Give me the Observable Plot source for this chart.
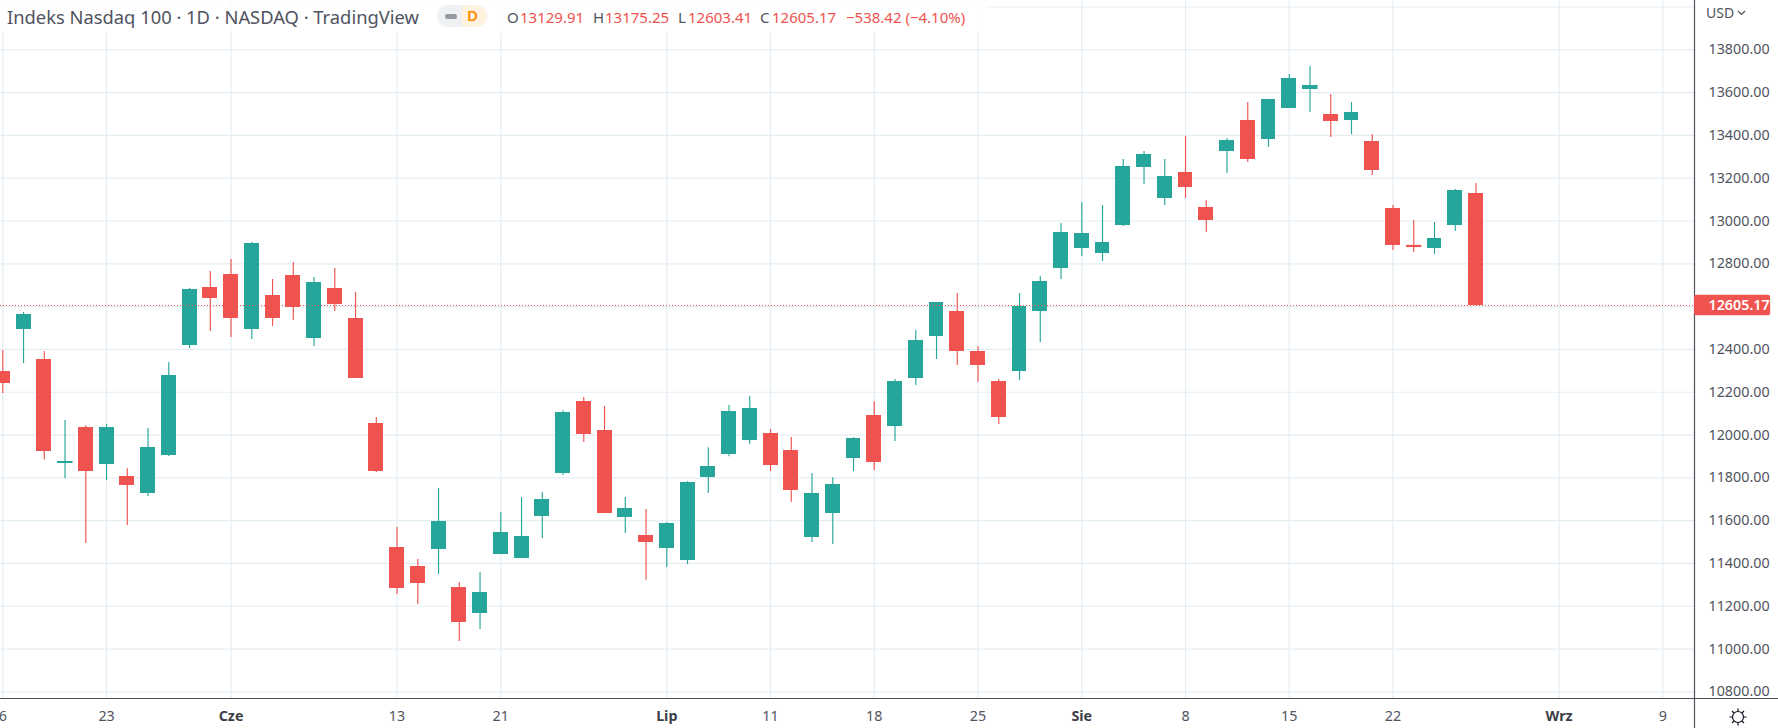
<!DOCTYPE html>
<html lang="pl">
<head>
<meta charset="utf-8">
<title>Indeks Nasdaq 100</title>
<script src="https://cdn.jsdelivr.net/npm/d3@7"></script>
<script src="https://cdn.jsdelivr.net/npm/@observablehq/plot@0.6"></script>
<style>
html,body{margin:0;padding:0;background:#fff;overflow:hidden}
#wrap{position:relative;width:1778px;height:728px;font-family:"Noto Sans",sans-serif}
#chart svg{display:block}
#head{position:absolute;left:0;top:0;width:990px;height:33px;background:rgba(255,255,255,.78)}
#head span{position:absolute;white-space:nowrap}
#title{left:7px;top:4px;font-size:18.35px;line-height:25px;color:#50535e}
.ohlc{top:7px;font-size:15px;line-height:20px;color:#ef5350}
.ohlc.k{color:#50535e}
#pillL{left:437px;top:5px;width:25px;height:22px;background:#eff0f3;border-radius:11px 0 0 11px}
#pillR{left:462px;top:5px;width:25px;height:22px;background:#fff3e0;border-radius:0 11px 11px 0;color:#ff8a00;font-size:15px;line-height:21px;font-weight:600;text-indent:5px}
#pillD{left:445px;top:14px;width:12px;height:5px;background:#9598a1;border-radius:2.5px}
#usd{position:absolute;left:1706px;top:3px;font-size:14px;line-height:20px;color:#50535e}
#chev{position:absolute;left:1737px;top:10px}
#gear{position:absolute;left:1727px;top:706px}
</style>
</head>
<body>
<div id="wrap">
  <div id="chart"></div>
  <div id="head">
    <span id="title">Indeks Nasdaq 100 · 1D · NASDAQ · TradingView</span>
    <span id="pillL"></span><span id="pillD"></span><span id="pillR">D</span>
    <span class="ohlc k" style="left:507px">O</span><span class="ohlc" style="left:520px">13129.91</span>
    <span class="ohlc k" style="left:593px">H</span><span class="ohlc" style="left:605px">13175.25</span>
    <span class="ohlc k" style="left:678px">L</span><span class="ohlc" style="left:688px">12603.41</span>
    <span class="ohlc k" style="left:760px">C</span><span class="ohlc" style="left:772px">12605.17</span>
    <span class="ohlc" style="left:846px">−538.42 (−4.10%)</span>
  </div>
  <div id="usd">USD</div>
  <svg id="chev" width="9" height="6" viewBox="0 0 9 6"><path d="M1 1l3.5 3.5L8 1" fill="none" stroke="#50535e" stroke-width="1.2"/></svg>
  <svg id="gear" width="22" height="22" viewBox="0 0 22 22" fill="none" stroke="#131722" stroke-width="1.2"><circle cx="11" cy="11" r="5.5"/><path d="M11 2.5v3M11 16.5v3M2.5 11h3M16.5 11h3M5 5l2 2M15 15l2 2M5 17l2-2M15 7l2-2"/></svg>
</div>
<script>
const opens  = [12297,12493,12353,11867,12035,11862,11806,11727,11904,12418,12689,12750,12493,12652,12745,12451,12685,12545,12054,11474,11386,11465,11287,11166,11442,11423,11619,11820,12157,12021,11614,11530,11470,11413,11801,11909,11974,12007,11927,11521,11633,11890,12091,12040,12264,12460,12577,12390,12250,12297,12577,12778,12871,12848,12979,13250,13105,13227,13063,13325,13470,13381,13526,13615,13498,13470,13372,13059,12886,12872,12979,13129.91];
const highs  = [12395,12573,12390,12068,12044,12049,11843,12030,12339,12685,12764,12820,12900,12727,12806,12736,12778,12666,12082,11568,11418,11750,11311,11357,11638,11708,11731,12114,12175,12133,11708,11652,11591,11782,11941,12138,12180,12026,11988,11820,11801,11988,12156,12259,12488,12619,12661,12413,12259,12661,12741,12988,13086,13072,13287,13325,13287,13395,13096,13386,13554,13568,13685,13722,13591,13554,13404,13073,13002,12993,13147,13175.25];
const lows   = [12194,12334,11885,11797,11493,11787,11577,11713,11900,12404,12484,12456,12446,12507,12535,12414,12577,12264,11825,11255,11208,11348,11035,11091,11442,11423,11516,11811,11965,11633,11540,11322,11381,11395,11727,11899,11955,11829,11685,11498,11488,11829,11834,11970,12231,12353,12325,12245,12049,12255,12432,12727,12834,12811,12974,13171,13072,13105,12946,13222,13274,13344,13526,13507,13390,13404,13213,12862,12853,12844,12951,12603.41];
const closes = [12241,12563,11924,11876,11829,12035,11764,11942,12278,12680,12638,12545,12895,12545,12596,12713,12610,12264,11829,11283,11306,11596,11124,11264,11544,11526,11699,12105,12002,11633,11656,11498,11586,11778,11853,12110,12124,11857,11741,11727,11768,11984,11871,12250,12441,12619,12390,12325,12082,12600,12717,12946,12941,12899,13255,13311,13208,13157,13002,13376,13288,13568,13666,13633,13465,13507,13236,12886,12876,12918,13143,12605.17];

const lastPrice = 12605.17;
const priceTicks = d3.range(10800, 14001, 200);
const priceLabels = d3.range(10800, 13801, 200);
const timeTicks  = [0,5,11,19,24,32,37,42,47,52,57,62,67,75,80];
const timeLabels = ["6","23","Cze","13","21","Lip","11","18","25","Sie","8","15","22","Wrz","9"];
const monthLabels = ["Cze","Lip","Sie","Wrz"];

const UP = "#26a69a", DOWN = "#ef5350", GRID = "#e4edf3", AXIS = "#50535e";
const candles = opens.map((o, i) => ({i, o, h: highs[i], l: lows[i], c: closes[i], up: closes[i] >= o}));
const labelOf = new Map(timeTicks.map((t, k) => [t, timeLabels[k]]));
const isMonth = t => monthLabels.includes(labelOf.get(t));

const xDomain = [-0.111, 81.53], yDomain = [10769, 14030.4];
const color = d => d.up ? UP : DOWN;

const chart = Plot.plot({
  width: 1778, height: 728,
  marginLeft: 0, marginRight: 84, marginTop: 0, marginBottom: 30,
  style: {fontFamily: '"Noto Sans",sans-serif', background: "#fff", overflow: "visible"},
  x: {type: "linear", domain: xDomain},
  y: {type: "linear", domain: yDomain},
  marks: [
    Plot.gridY(priceTicks, {stroke: GRID, strokeOpacity: 1, strokeWidth: 1.2}),
    Plot.gridX(timeTicks, {stroke: GRID, strokeOpacity: 1, strokeWidth: 1.2}),
    Plot.ruleX(candles, {x: "i", y1: "l", y2: "h", stroke: color, strokeWidth: 1.15}),
    Plot.rect(candles, {x1: d => d.i - 0.36, x2: d => d.i + 0.36, y1: "o", y2: "c", fill: color, shapeRendering: "crispEdges"}),
    Plot.ruleX(candles.filter(d => Math.abs(d.o - d.c) < 20), {x: "i", y1: "o", y2: "c", stroke: color, strokeWidth: 15}),
    Plot.ruleY([lastPrice], {x1: xDomain[0], x2: xDomain[1], stroke: DOWN, strokeWidth: 1, strokeDasharray: "1,2", shapeRendering: "crispEdges"}),
    Plot.ruleY([yDomain[0]], {x1: xDomain[0], x2: 85.6, stroke: AXIS, strokeWidth: 1.2}),
    Plot.ruleX([xDomain[1]], {y1: 10629, y2: yDomain[1], stroke: AXIS, strokeWidth: 1.2}),
    Plot.axisY(priceLabels, {anchor: "right", tickSize: 0, tickPadding: 14, label: null, tickFormat: d => d.toFixed(2), fontSize: 14.3, fill: AXIS, textAnchor: "start"}),
    Plot.axisX(timeTicks.filter(t => !isMonth(t)), {tickSize: 0, tickPadding: 12.5, label: null, tickFormat: t => labelOf.get(t), fontSize: 14.3, fill: AXIS}),
    Plot.axisX(timeTicks.filter(isMonth), {tickSize: 0, tickPadding: 12.5, label: null, tickFormat: t => labelOf.get(t), fontSize: 14.3, fontWeight: 700, fill: "#3c3f48"}),
    Plot.rect([lastPrice], {x1: xDomain[1], x2: 85.2, y1: d => d - 48, y2: d => d + 48, fill: DOWN, rx: 2}),
    Plot.text([lastPrice], {x: xDomain[1], y: d => d, text: d => d.toFixed(2), fill: "#fff", fontSize: 14.3, fontWeight: 600, textAnchor: "start", dx: 14})
  ]
});
document.getElementById("chart").append(chart);
</script>
</body>
</html>
